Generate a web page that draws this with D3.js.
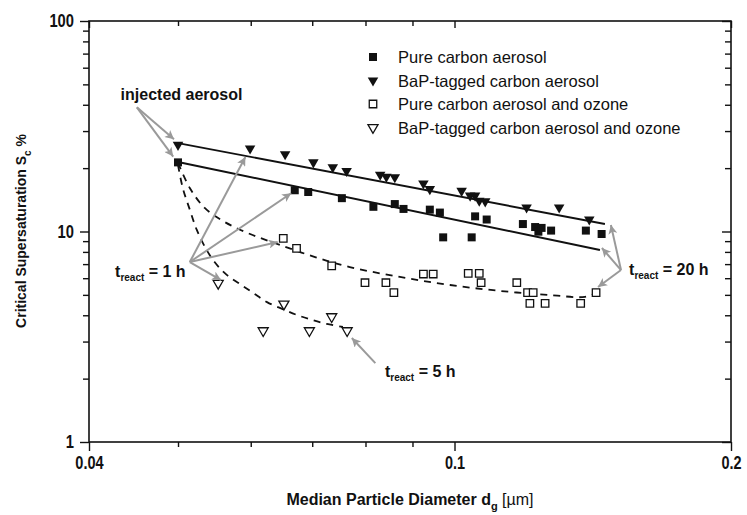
<!DOCTYPE html>
<html>
<head>
<meta charset="utf-8">
<script src="https://cdn.jsdelivr.net/npm/d3@7"></script>
<style>
html,body{margin:0;padding:0;background:#fff;}
svg{display:block;}
.narrow{font-family:"Liberation Sans Narrow","Arial Narrow","Liberation Sans",Arial,sans-serif;}
.sans{font-family:"Liberation Sans",Arial,Helvetica,sans-serif;}
</style>
</head>
<body>
<svg id="chart" width="747" height="515"></svg>
<script>
// ---------------- data ----------------
const xMajorTicks = [0.04, 0.1, 0.2];
const xTickLabels = ["0.04", "0.1", "0.2"];
const xMinorTicks = [0.05, 0.06, 0.07, 0.08, 0.09];
const yMajorTicks = [1, 10, 100];
const yTickLabels = ["1", "10", "100"];
const yMinorTicks = [2, 3, 4, 5, 6, 7, 8, 9, 20, 30, 40, 50, 60, 70, 80, 90];

const seriesNames = ["Pure carbon aerosol", "BaP-tagged carbon aerosol",
  "Pure carbon aerosol and ozone", "BaP-tagged carbon aerosol and ozone"];

// Pure carbon aerosol (filled squares) [d_g (µm), S_c (%)]
const pureCarbon = [
  [0.0500, 21.3], [0.0670, 15.7], [0.0693, 15.4], [0.0754, 14.4], [0.0816, 13.1],
  [0.0861, 13.5], [0.0880, 12.8], [0.0940, 12.7], [0.0964, 12.3], [0.0972, 9.38],
  [0.1044, 9.38], [0.1053, 11.8], [0.1084, 11.4], [0.1187, 10.85], [0.1224, 10.5],
  [0.1234, 9.98], [0.1244, 10.4], [0.1274, 10.1], [0.1390, 10.1], [0.1446, 9.73]
];
// BaP-tagged carbon aerosol (filled down-triangles)
const bapCarbon = [
  [0.0500, 25.8], [0.0599, 24.8], [0.0654, 23.3], [0.0702, 21.3], [0.0737, 20.2],
  [0.0763, 19.4], [0.0830, 18.6], [0.0843, 18.2], [0.0861, 18.1], [0.0925, 16.9],
  [0.0940, 15.9], [0.1018, 15.6], [0.1040, 14.8], [0.1053, 14.8], [0.1064, 14.0],
  [0.1080, 13.9], [0.1198, 13.0], [0.1300, 13.0], [0.1402, 11.4]
];
// Pure carbon aerosol and ozone (open squares)
const pureOzone = [
  [0.0651, 9.28], [0.0673, 8.32], [0.0735, 6.86], [0.0799, 5.71], [0.0842, 5.71],
  [0.0859, 5.12], [0.0925, 6.28], [0.0948, 6.28], [0.1035, 6.33], [0.1064, 6.33],
  [0.1069, 5.71], [0.1169, 5.71], [0.1201, 5.12], [0.1218, 5.12], [0.1208, 4.56],
  [0.1255, 4.56], [0.1372, 4.56], [0.1426, 5.12]
];
// BaP-tagged carbon aerosol and ozone (open down-triangles)
const bapOzone = [
  [0.0553, 5.67], [0.0619, 3.38], [0.0652, 4.52], [0.0695, 3.38], [0.0735, 3.94], [0.0764, 3.38]
];

// fitted solid lines
const fitBap = [[0.0500, 26.3], [0.1458, 10.85]];
const fitPure = [[0.0500, 21.4], [0.1440, 8.17]];

// dashed guide curves
const curvePureOzone = [
  [0.0500, 21.2], [0.0515, 16.1], [0.0535, 12.9], [0.0562, 11.1], [0.0599, 9.73],
  [0.0646, 8.63], [0.0705, 7.56], [0.0769, 6.78], [0.0872, 6.08], [0.0989, 5.57],
  [0.1121, 5.22], [0.1270, 4.99], [0.1387, 4.89], [0.1426, 5.10]
];
const curveBapOzone = [
  [0.0500, 20.7], [0.0506, 16.1], [0.0515, 12.7], [0.0524, 10.2], [0.0535, 8.44],
  [0.0548, 7.16], [0.0565, 6.22], [0.0584, 5.63], [0.0604, 5.10], [0.0625, 4.62],
  [0.0650, 4.28], [0.0674, 4.01], [0.0700, 3.80], [0.0726, 3.64], [0.0756, 3.52]
];

// annotations (text position and arrows in data coordinates)
const annotations = [
  {main: "injected aerosol", sub: "", rest: "", at: [0.0433, 42.1],
   from: [0.0451, 38.9], to: [[0.0495, 27.4], [0.0494, 22.7]]},
  {main: "t", sub: "react", rest: " = 1 h", at: [0.0427, 6.08],
   from: [0.0515, 7.16], to: [[0.0592, 22.6], [0.0664, 15.2], [0.0642, 8.91], [0.0557, 5.88]]},
  {main: "t", sub: "react", rest: " = 20 h", at: [0.1549, 6.22],
   from: [0.1518, 6.56], to: [[0.1480, 10.74], [0.1447, 8.35], [0.1433, 5.45]]},
  {main: "t", sub: "react", rest: " = 5 h", at: [0.0840, 2.04],
   from: [0.0820, 2.37], to: [[0.0773, 3.12]]}
];

// ---------------- drawing ----------------
const svg = d3.select("#chart");
const L = 89, R = 731, T = 21, B = 442;
const x = d3.scaleLog().domain([0.04, 0.2]).range([L, R]);
const y = d3.scaleLog().domain([1, 100]).range([B, T]);

// arrowhead marker
svg.append("defs").append("marker")
  .attr("id", "arr").attr("viewBox", "0 0 10 10").attr("refX", 10).attr("refY", 5)
  .attr("markerWidth", 12).attr("markerHeight", 9).attr("markerUnits", "userSpaceOnUse")
  .attr("orient", "auto")
  .append("path").attr("d", "M0,0 L10,5 L0,10 L2.5,5 Z").attr("fill", "#9a9a9a");

// axes
function styleAxis(g) {
  g.select(".domain").remove();
  g.selectAll(".tick line").attr("stroke", "#111").attr("stroke-width", 1.4);
}
const fmtX = d => xTickLabels[xMajorTicks.indexOf(d)];
const fmtY = d => yTickLabels[yMajorTicks.indexOf(d)];
const labelWidth = s => s.length * 8.2 - (s.includes(".") ? 4.5 : 0);
function styleLabels(g) {
  g.selectAll("text").attr("class", "narrow").attr("font-size", 18).attr("font-weight", "bold")
    .attr("fill", "#111")
    .attr("textLength", function () { return labelWidth(this.textContent); })
    .attr("lengthAdjust", "spacingAndGlyphs");
}

// bottom (outward)
svg.append("g").attr("transform", `translate(0,${B})`)
  .call(d3.axisBottom(x).tickValues(xMajorTicks).tickSize(9).tickPadding(5).tickFormat(fmtX))
  .call(styleAxis).call(styleLabels);
svg.append("g").attr("transform", `translate(0,${B})`)
  .call(d3.axisBottom(x).tickValues(xMinorTicks).tickSize(5).tickFormat(""))
  .call(styleAxis);
// top (inward)
svg.append("g").attr("transform", `translate(0,${T})`)
  .call(d3.axisBottom(x).tickValues(xMajorTicks).tickSize(7).tickFormat(""))
  .call(styleAxis);
svg.append("g").attr("transform", `translate(0,${T})`)
  .call(d3.axisBottom(x).tickValues(xMinorTicks).tickSize(5).tickFormat(""))
  .call(styleAxis);
// left (outward)
svg.append("g").attr("transform", `translate(${L},0)`)
  .call(d3.axisLeft(y).tickValues(yMajorTicks).tickSize(9).tickPadding(6).tickFormat(fmtY))
  .call(styleAxis).call(styleLabels);
svg.append("g").attr("transform", `translate(${L},0)`)
  .call(d3.axisLeft(y).tickValues(yMinorTicks).tickSize(6).tickFormat(""))
  .call(styleAxis);
// right (inward)
svg.append("g").attr("transform", `translate(${R},0)`)
  .call(d3.axisLeft(y).tickValues(yMajorTicks).tickSize(9).tickFormat(""))
  .call(styleAxis);
svg.append("g").attr("transform", `translate(${R},0)`)
  .call(d3.axisLeft(y).tickValues(yMinorTicks).tickSize(6).tickFormat(""))
  .call(styleAxis);

// frame
svg.append("rect").attr("x", L).attr("y", T).attr("width", R - L).attr("height", B - T)
  .attr("fill", "none").attr("stroke", "#111").attr("stroke-width", 1.6);

// axis titles
const xt = svg.append("text").attr("class", "narrow").attr("x", 410).attr("y", 505)
  .attr("text-anchor", "middle").attr("font-size", 16).attr("font-weight", "bold").attr("fill", "#111");
xt.append("tspan").text("Median Particle Diameter d");
xt.append("tspan").attr("font-size", 11).attr("dy", 5).text("g");
xt.append("tspan").attr("dy", -5).attr("font-weight", "normal").text(" [\u00b5m]");

const yt = svg.append("text").attr("class", "sans")
  .attr("transform", "translate(26,231) rotate(-90)")
  .attr("text-anchor", "middle").attr("font-size", 14).attr("font-weight", "bold").attr("fill", "#111");
yt.append("tspan").text("Critical Supersaturation S");
yt.append("tspan").attr("font-size", 10).attr("dy", 5).text("c");
yt.append("tspan").attr("dy", -5).text(" %");

// lines
const line = d3.line().x(d => x(d[0])).y(d => y(d[1]));
const curve = d3.line().x(d => x(d[0])).y(d => y(d[1])).curve(d3.curveCatmullRom.alpha(0.5));
[fitBap, fitPure].forEach(d => svg.append("path").attr("d", line(d))
  .attr("fill", "none").attr("stroke", "#111").attr("stroke-width", 1.9));
[curvePureOzone, curveBapOzone].forEach(d => svg.append("path").attr("d", curve(d))
  .attr("fill", "none").attr("stroke", "#111").attr("stroke-width", 1.8).attr("stroke-dasharray", "7,6"));

// markers
const sq = d3.symbol().type(d3.symbolSquare);
const tri = d3.symbol().type(d3.symbolTriangle);
const styles = [
  {data: pureCarbon, path: sq.size(64)(), rot: 0, fill: "#111", stroke: "none"},
  {data: bapCarbon, path: tri.size(48)(), rot: 180, fill: "#111", stroke: "none"},
  {data: pureOzone, path: sq.size(56)(), rot: 0, fill: "#fff", stroke: "#111"},
  {data: bapOzone, path: tri.size(44)(), rot: 180, fill: "#fff", stroke: "#111"}
];
styles.forEach(s => {
  svg.append("g").selectAll("path").data(s.data).join("path")
    .attr("d", s.path)
    .attr("transform", d => `translate(${x(d[0])},${y(d[1])}) rotate(${s.rot})`)
    .attr("fill", s.fill).attr("stroke", s.stroke).attr("stroke-width", 1.3);
});

// legend
const lg = svg.append("g").attr("transform", "translate(373,57)");
styles.forEach((s, i) => {
  const row = lg.append("g").attr("transform", `translate(0,${i * 23.5})`);
  row.append("path").attr("d", s.path).attr("transform", `rotate(${s.rot})`)
    .attr("fill", s.fill).attr("stroke", s.stroke).attr("stroke-width", 1.3);
  row.append("text").attr("class", "sans").attr("x", 25).attr("y", 6)
    .attr("font-size", 16.5).attr("fill", "#111").text(seriesNames[i]);
});

// annotations
annotations.forEach(a => {
  a.to.forEach(t => svg.append("line")
    .attr("x1", x(a.from[0])).attr("y1", y(a.from[1]))
    .attr("x2", x(t[0])).attr("y2", y(t[1]))
    .attr("stroke", "#9a9a9a").attr("stroke-width", 2).attr("marker-end", "url(#arr)"));
  const tx = svg.append("text").attr("class", "sans").attr("x", x(a.at[0])).attr("y", y(a.at[1]))
    .attr("font-size", 16).attr("font-weight", "bold").attr("fill", "#111");
  tx.append("tspan").text(a.main);
  if (a.sub) {
    tx.append("tspan").attr("font-size", 10).attr("dy", 4).text(a.sub);
    tx.append("tspan").attr("dy", -4).text(a.rest);
  }
});
</script>
</body>
</html>
